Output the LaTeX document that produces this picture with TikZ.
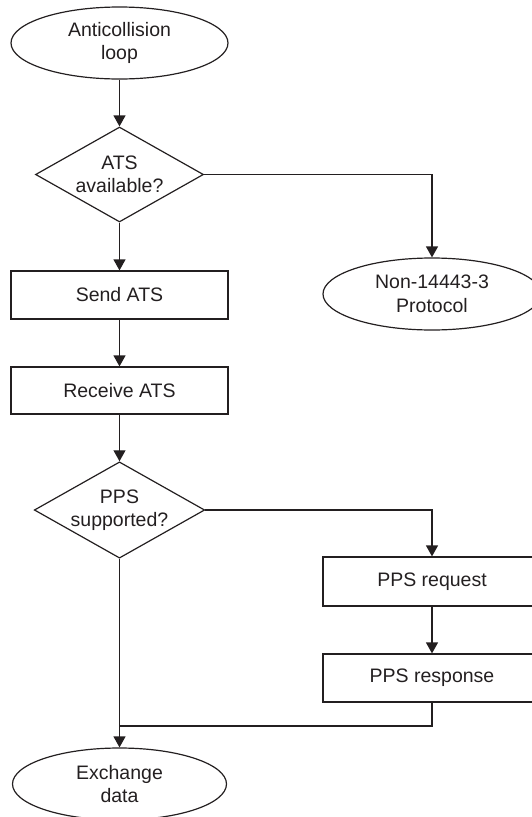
\documentclass[tikz,border=0pt]{standalone}
\usepackage{fontspec}
\setmainfont{Liberation Sans}
\usetikzlibrary{shapes.geometric,arrows.meta}
\definecolor{ink}{HTML}{231F20}
\begin{document}
\begin{tikzpicture}[x=1pt,y=-1pt,
  every node/.style={font=\fontsize{19.5}{23.5}\selectfont, text=ink, align=center, inner sep=0pt, line width=1.2pt, draw=ink},
  term/.style={ellipse, minimum width=217pt, minimum height=72pt},
  decide/.style={diamond, aspect=1.77, minimum width=168pt, minimum height=95pt},
  proc/.style={rectangle, minimum width=217pt, minimum height=48pt},
  flow/.style={line width=1.2pt, draw=ink, -{Triangle[length=11pt,width=12pt]}},
  plain/.style={line width=1.2pt, draw=ink}]
\useasboundingbox (0,0) rectangle (531,817);
\node[term] (A) at (119.5,43) {Anticollision\\loop};
\node[decide] (D1) at (119.5,174.5) {ATS\\available?};
\node[term, minimum width=218pt] (N) at (432,294) {Non-14443-3\\Protocol};
\node[proc] (S) at (119.5,295) {Send ATS};
\node[proc, minimum height=47pt] (R) at (119.5,390.5) {Receive ATS};
\node[decide, minimum height=94pt] (D2) at (119.5,510) {PPS\\supported?};
\node[proc, minimum width=218pt, minimum height=49pt] (P1) at (432,581.5) {PPS request};
\node[proc, minimum width=218pt] (P2) at (432,678) {PPS response};
\node[term, minimum width=214pt] (E) at (119.5,784) {Exchange\\data};
\coordinate (J) at (119.5,726);
\draw[flow] (A) -- (D1);
\draw[flow] (D1.east) -| (N.north);
\draw[flow] (D1) -- (S);
\draw[flow] (S) -- (R);
\draw[flow] (R) -- (D2);
\draw[flow] (D2.east) -| (P1.north);
\draw[flow] (P1) -- (P2);
\draw[plain] (P2.south) |- (J);
\draw[flow] (D2.south) -- (E.north);
\end{tikzpicture}
\end{document}
